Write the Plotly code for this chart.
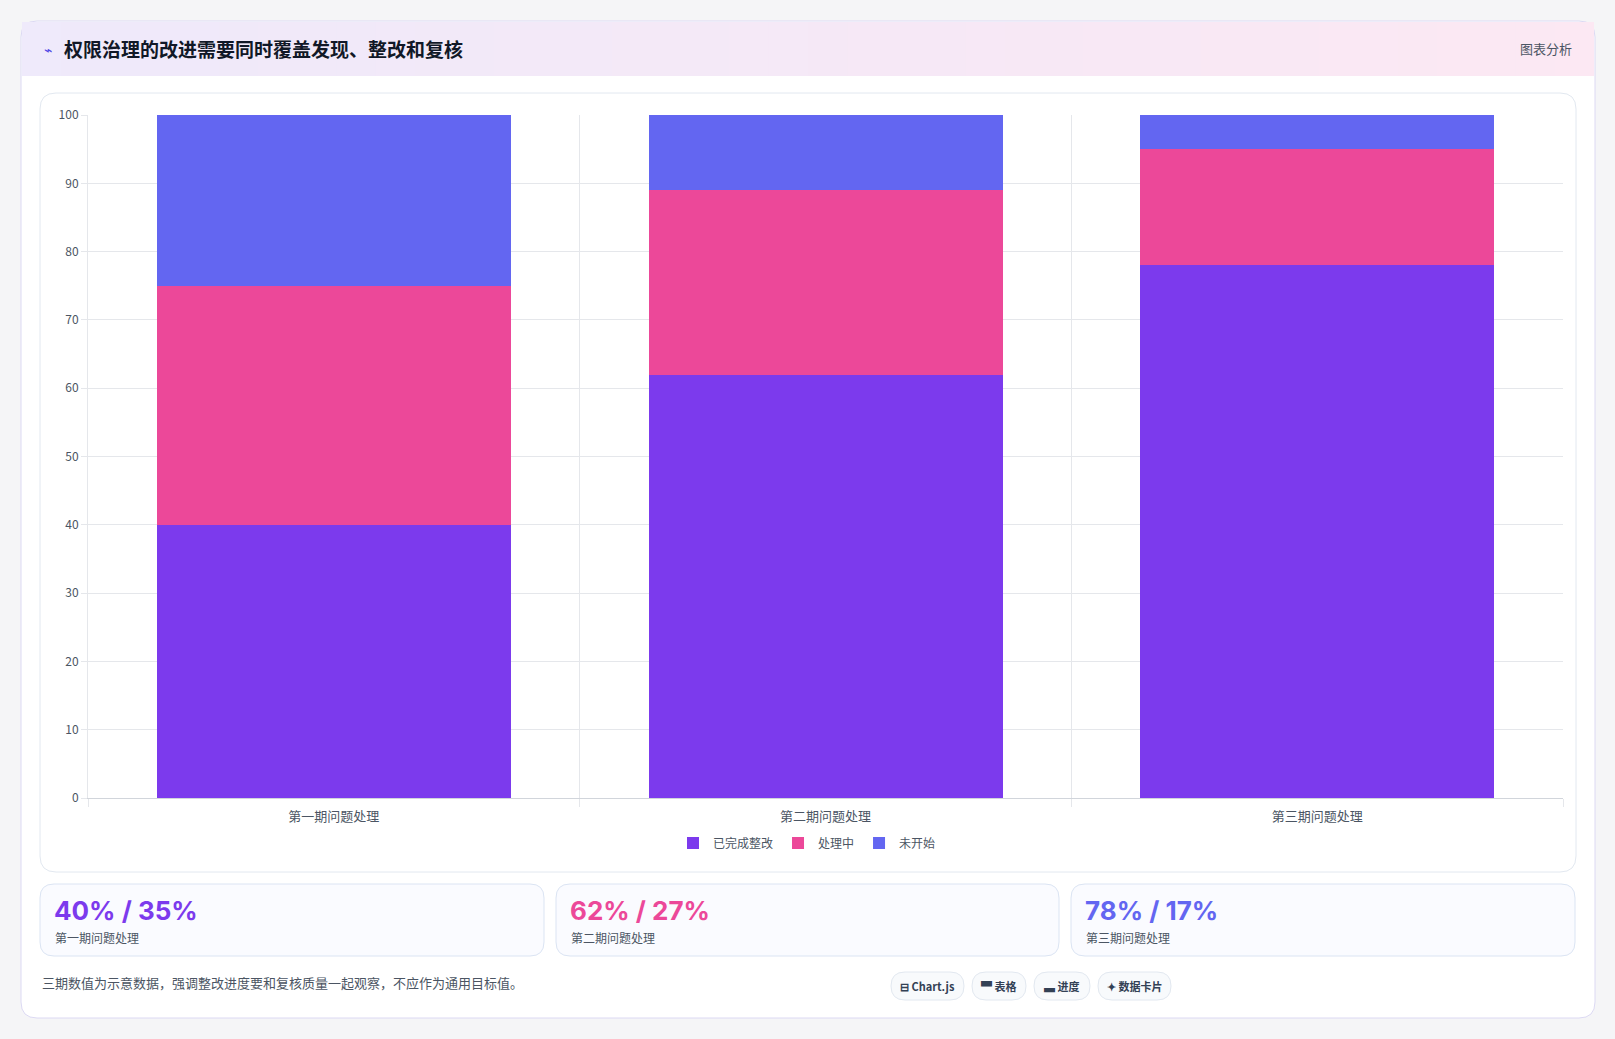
import plotly.graph_objects as go

periods = ["第一期问题处理", "第二期问题处理", "第三期问题处理"]
done = [40, 62, 78]
doing = [35, 27, 17]
not_started = [25, 11, 5]
series_names = ["已完成整改", "处理中", "未开始"]
colors = ["#7c3aed", "#ec4899", "#6366f1"]
card_values = ["40% / 35%", "62% / 27%", "78% / 17%"]
chips = ["⊟ Chart.js", "▀ 表格", "▃ 进度", "✦ 数据卡片"]

W, H = 1615, 1039
L, R, T, B = 88, 1563, 115, 798
FONT = "Noto Sans CJK SC"


def px(x):
    return (x - L) / (R - L)


def py(y):
    return (B - y) / (B - T)


def rrect(x0, y0, x1, y1, r, fill, line, lw=1):
    p = (f"M{px(x0 + r)},{py(y0)} L{px(x1 - r)},{py(y0)} Q{px(x1)},{py(y0)} {px(x1)},{py(y0 + r)} "
         f"L{px(x1)},{py(y1 - r)} Q{px(x1)},{py(y1)} {px(x1 - r)},{py(y1)} "
         f"L{px(x0 + r)},{py(y1)} Q{px(x0)},{py(y1)} {px(x0)},{py(y1 - r)} "
         f"L{px(x0)},{py(y0 + r)} Q{px(x0)},{py(y0)} {px(x0 + r)},{py(y0)} Z")
    return dict(type="path", path=p, xref="paper", yref="paper", fillcolor=fill,
                line=dict(color=line, width=lw), layer="below")


fig = go.Figure()
for name, vals, c in zip(series_names, [done, doing, not_started], colors):
    fig.add_trace(go.Bar(x=periods, y=vals, name=name, marker=dict(color=c, line=dict(width=0)),
                         width=0.72))

shapes = [
    dict(type="rect", xref="paper", yref="paper", x0=px(0), x1=px(W), y0=py(0), y1=py(H),
         fillcolor="#f5f5f7", line_width=0, layer="below"),
    rrect(21, 21, 1595, 1018, 16, "#ffffff", "#dcd9f3"),
]
# header band gradient
n = 40
for i in range(n):
    t = i / (n - 1)
    r = int(0xef + (0xfc - 0xef) * t)
    g = int(0xea + (0xe8 - 0xea) * t)
    b = int(0xfb + (0xf3 - 0xfb) * t)
    x0 = 22 + (1594 - 22) * i / n
    x1 = 22 + (1594 - 22) * (i + 1) / n + 1
    shapes.append(dict(type="rect", xref="paper", yref="paper", x0=px(x0), x1=px(min(x1, 1594)),
                       y0=py(22), y1=py(76), fillcolor=f"rgb({r},{g},{b})", line_width=0, layer="below"))
shapes.append(rrect(40, 93, 1576, 872, 16, "#ffffff", "#e2e8f0"))
card_x = [(40, 544), (556, 1059), (1071, 1575)]
for x0, x1 in card_x:
    shapes.append(rrect(x0, 884, x1, 956, 14, "#fafbff", "#dbe4f3"))
chip_x = [(891, 964), (972, 1026), (1034, 1090), (1098, 1171)]
for x0, x1 in chip_x:
    shapes.append(rrect(x0, 972, x1, 1000, 14, "#f8fafc", "#e2e8f0"))

ann = [
    dict(x=px(42), y=py(49), text="⌁", font=dict(size=14, color="#4f46e5")),
    dict(x=px(62), y=py(49), text="<b>权限治理的改进需要同时覆盖发现、整改和复核</b>",
         font=dict(size=19, color="#111827")),
    dict(x=px(1574), y=py(48), text="图表分析", xanchor="right", font=dict(size=13, color="#4b5563")),
    dict(x=px(40), y=py(982), text="三期数值为示意数据，强调整改进度要和复核质量一起观察，不应作为通用目标值。",
         font=dict(size=13, color="#4b5563")),
]
for (x0, x1), v, c, lab in zip(card_x, card_values, colors, periods):
    ann.append(dict(x=px(x0 + 12), y=py(910), text=f"<b>{v}</b>",
                    font=dict(size=26, color=c, family="Inter", weight=900)))
    ann.append(dict(x=px(x0 + 13), y=py(937), text=lab, font=dict(size=12, color="#4b5563")))
for (x0, x1), t in zip(chip_x, chips):
    ann.append(dict(x=px((x0 + x1) / 2), y=py(986), text=f"<b>{t}</b>", xanchor="center",
                    font=dict(size=11, color="#334155")))
for a in ann:
    a.update(xref="paper", yref="paper", showarrow=False, yanchor="middle")
    a.setdefault("xanchor", "left")

fig.update_layout(
    width=W, height=H, barmode="stack", bargap=0.28,
    margin=dict(l=L, r=W - R, t=T, b=H - B),
    paper_bgcolor="#f5f5f7", plot_bgcolor="rgba(0,0,0,0)",
    font=dict(family=FONT, size=12, color="#4b5563"),
    shapes=shapes, annotations=ann,
    legend=dict(orientation="h", x=px(807), xanchor="center", y=py(843), yanchor="middle",
                font=dict(size=12, color="#4b5563"), traceorder="normal", bgcolor="rgba(0,0,0,0)",
                itemwidth=30),
)
fig.update_xaxes(tickson="boundaries", showgrid=True, gridcolor="#e5e7eb", ticks="outside",
                 ticklen=8, tickcolor="#e5e7eb", showline=True, linecolor="#d1d5db",
                 ticklabelstandoff=6, tickfont=dict(size=13, color="#4b5563"))
fig.update_yaxes(range=[0, 100], dtick=10, gridcolor="#e5e7eb", showline=True, linecolor="#e5e7eb",
                 ticks="outside", ticklen=6, tickcolor="#e5e7eb", zeroline=False,
                 tickfont=dict(size=12, color="#4b5563"))

fig.write_html("out.html", config={"displayModeBar": False},
               post_script="document.body.style.margin='0';")
